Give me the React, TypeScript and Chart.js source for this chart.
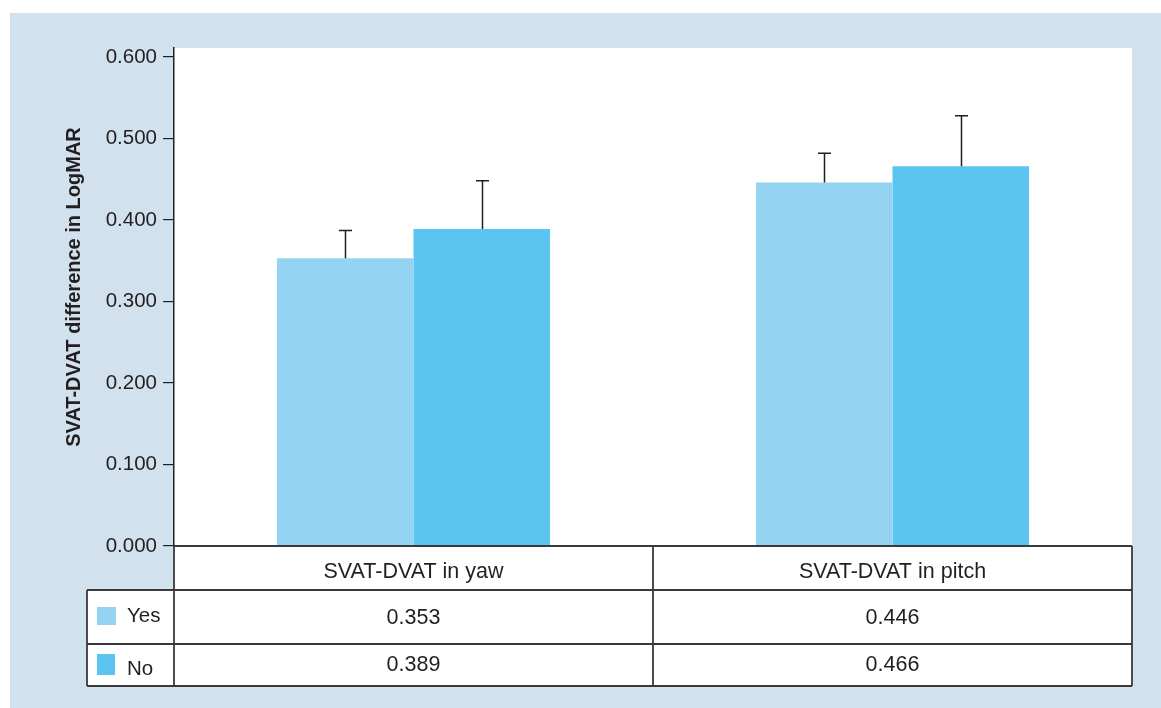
import React, { useEffect, useRef } from "react";
import { Chart, registerables } from "chart.js";

Chart.register(...registerables);

const categories = ["SVAT-DVAT in yaw", "SVAT-DVAT in pitch"];
const seriesNames = ["Yes", "No"];
const yesValues = [0.353, 0.446];
const noValues = [0.389, 0.466];
const yesErrors = [0.034, 0.036];
const noErrors = [0.059, 0.062];
const yTicks = [0, 0.1, 0.2, 0.3, 0.4, 0.5, 0.6];
const yTitle = "SVAT-DVAT difference in LogMAR";

const YES_COLOR = "#95d3f2";
const NO_COLOR = "#5bc4f0";
const BG = "#d1e1ed";
const INK = "#231f20";
const LINE = "#3a3a3c";
const FONT = "'Liberation Sans', Arial, Helvetica, sans-serif";

const errorsBySeries = [yesErrors, noErrors];
const valuesBySeries = [yesValues, noValues];
const colorsBySeries = [YES_COLOR, NO_COLOR];

const panelPlugin = {
  id: "panel",
  beforeDraw(chart: any) {
    const { ctx, chartArea, width, height } = chart;
    ctx.save();
    ctx.fillStyle = "#ffffff";
    ctx.fillRect(0, 0, width, height);
    ctx.fillStyle = BG;
    ctx.fillRect(10, 13, width - 10, height - 13);
    ctx.fillStyle = "#ffffff";
    ctx.fillRect(chartArea.left, chartArea.top, chartArea.right - chartArea.left, chartArea.bottom - chartArea.top);
    ctx.restore();
  },
};

const errorBarPlugin = {
  id: "errorBars",
  afterDatasetsDraw(chart: any) {
    const { ctx } = chart;
    const yScale = chart.scales.y;
    ctx.save();
    ctx.strokeStyle = INK;
    ctx.lineWidth = 1.5;
    chart.data.datasets.forEach((ds: any, di: number) => {
      const meta = chart.getDatasetMeta(di);
      meta.data.forEach((bar: any, i: number) => {
        const v = ds.data[i];
        const e = errorsBySeries[di][i];
        const yTop = yScale.getPixelForValue(v + e);
        const yBase = bar.y;
        const x = Math.round(bar.x) + 0.5;
        ctx.beginPath();
        ctx.moveTo(x, yBase);
        ctx.lineTo(x, yTop);
        ctx.moveTo(x - 6.5, yTop);
        ctx.lineTo(x + 6.5, yTop);
        ctx.stroke();
      });
    });
    ctx.restore();
  },
};

const tablePlugin = {
  id: "dataTable",
  afterDraw(chart: any) {
    const { ctx, chartArea } = chart;
    const xScale = chart.scales.x;
    const left = chartArea.left;
    const right = chartArea.right;
    const top = chartArea.bottom;
    const legendLeft = 87;
    const headerBottom = top + 44;
    const row1Bottom = headerBottom + 54;
    const row2Bottom = row1Bottom + 42;
    const n = categories.length;
    const catW = (right - left) / n;

    ctx.save();
    ctx.fillStyle = "#ffffff";
    ctx.fillRect(left, top, right - left, headerBottom - top);
    ctx.fillRect(legendLeft, headerBottom, right - legendLeft, row2Bottom - headerBottom);

    ctx.strokeStyle = LINE;
    ctx.lineWidth = 1.8;
    ctx.beginPath();
    ctx.moveTo(left, top);
    ctx.lineTo(right, top);
    [headerBottom, row1Bottom, row2Bottom].forEach((y) => {
      ctx.moveTo(legendLeft, y);
      ctx.lineTo(right, y);
    });
    ctx.moveTo(left, top);
    ctx.lineTo(left, row2Bottom);
    ctx.moveTo(right, top);
    ctx.lineTo(right, row2Bottom);
    ctx.moveTo(legendLeft, headerBottom);
    ctx.lineTo(legendLeft, row2Bottom);
    for (let i = 1; i < n; i++) {
      const x = left + catW * i;
      ctx.moveTo(x, top);
      ctx.lineTo(x, row2Bottom);
    }
    ctx.stroke();

    ctx.fillStyle = INK;
    ctx.font = `21.5px ${FONT}`;
    ctx.textAlign = "center";
    ctx.textBaseline = "middle";
    categories.forEach((c, i) => {
      const cx = xScale.getPixelForValue(i);
      ctx.fillText(c, cx, top + 26);
      ctx.fillText(yesValues[i].toFixed(3), cx, headerBottom + 28);
      ctx.fillText(noValues[i].toFixed(3), cx, row1Bottom + 21);
    });

    ctx.fillStyle = colorsBySeries[0];
    ctx.fillRect(97, headerBottom + 17, 19, 18);
    ctx.fillStyle = colorsBySeries[1];
    ctx.fillRect(97, row1Bottom + 10, 18, 21);
    ctx.fillStyle = INK;
    ctx.font = `20.5px ${FONT}`;
    ctx.textAlign = "left";
    ctx.fillText(seriesNames[0], 127, headerBottom + 26);
    ctx.fillText(seriesNames[1], 127, row1Bottom + 25);

    ctx.save();
    ctx.translate(74, 287);
    ctx.rotate(-Math.PI / 2);
    ctx.font = `bold 20px ${FONT}`;
    ctx.textAlign = "center";
    ctx.textBaseline = "middle";
    ctx.fillText(yTitle, 0, 0);
    ctx.restore();

    ctx.restore();
  },
};

export default function App() {
  const canvasRef = useRef<HTMLCanvasElement | null>(null);

  useEffect(() => {
    const canvas = canvasRef.current;
    if (!canvas) return;
    const chart = new Chart(canvas, {
      type: "bar",
      data: {
        labels: categories,
        datasets: seriesNames.map((name, i) => ({
          label: name,
          data: valuesBySeries[i],
          backgroundColor: colorsBySeries[i],
          borderWidth: 0,
          categoryPercentage: 0.57,
          barPercentage: 1.0,
        })),
      },
      options: {
        responsive: false,
        animation: false,
        devicePixelRatio: 1,
        layout: { padding: { left: 100, right: 29, top: 48, bottom: 162 } },
        plugins: {
          legend: { display: false },
          tooltip: { enabled: false },
          title: { display: false },
        },
        scales: {
          x: { display: false },
          y: {
            min: 0,
            max: 0.611,
            afterBuildTicks: (scale: any) => {
              scale.ticks = yTicks.map((v) => ({ value: v }));
            },
            afterFit: (scale: any) => {
              scale.width = 74;
            },
            border: { display: true, color: INK, width: 1.5 },
            grid: {
              display: true,
              drawOnChartArea: false,
              drawTicks: true,
              tickLength: 11,
              color: INK,
              lineWidth: 1.2,
            },
            ticks: {
              padding: 6,
              color: INK,
              font: { size: 20.5, family: FONT },
              callback: (v: any) => Number(v).toFixed(3),
            },
            title: { display: false },
          },
        },
      },
      plugins: [panelPlugin, errorBarPlugin, tablePlugin],
    });
    return () => chart.destroy();
  }, []);

  return (
    <div style={{ position: "absolute", left: 0, top: 0, width: 1161, height: 708 }}>
      <canvas ref={canvasRef} width={1161} height={708} style={{ display: "block" }} />
    </div>
  );
}
